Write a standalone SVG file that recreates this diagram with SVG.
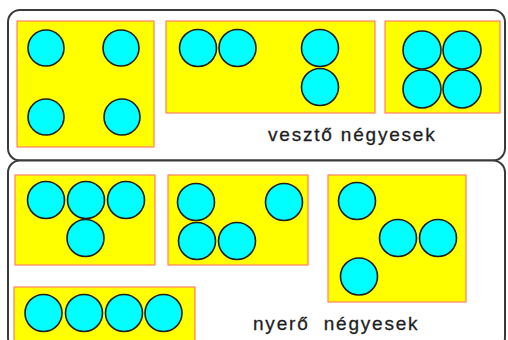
<svg xmlns="http://www.w3.org/2000/svg" width="508" height="340" viewBox="0 0 508 340">
  <style>
    .frame { fill: #ffffff; stroke: #3a3a3a; stroke-width: 2; }
    .card { fill: #ffff00; stroke: #ff8060; stroke-width: 1.2; }
    .dot { fill: #00ffff; stroke: #1e1e1e; stroke-width: 1.6; }
    .label { font-family: "Liberation Sans", Arial, sans-serif; font-size: 19px; fill: #1e1e1e; letter-spacing: 1.8px; stroke: #1e1e1e; stroke-width: 0.3; }
  </style>
  <rect width="508" height="340" fill="#ffffff"/>

  <!-- group frames -->
  <g id="losing-frame">
    <rect class="frame" x="8" y="10" width="497" height="150.5" rx="12" ry="12"/>
  </g>
  <g id="winning-frame">
    <rect class="frame" x="8" y="160.5" width="497" height="189" rx="12" ry="12"/>
  </g>

  <!-- losing fours -->
  <g id="lose-square">
    <rect class="card" x="17" y="21" width="137" height="126"/>
    <circle class="dot" cx="46" cy="48" r="18"/>
    <circle class="dot" cx="121" cy="48" r="18"/>
    <circle class="dot" cx="46" cy="117" r="18"/>
    <circle class="dot" cx="122" cy="117" r="18"/>
  </g>
  <g id="lose-pair-column">
    <rect class="card" x="166" y="21" width="209" height="92"/>
    <circle class="dot" cx="198" cy="48" r="18.5"/>
    <circle class="dot" cx="237.5" cy="48" r="18.5"/>
    <circle class="dot" cx="320" cy="48" r="18.5"/>
    <circle class="dot" cx="320" cy="87" r="18.5"/>
  </g>
  <g id="lose-block">
    <rect class="card" x="385" y="21" width="115" height="92"/>
    <circle class="dot" cx="422" cy="50" r="19"/>
    <circle class="dot" cx="462" cy="50" r="19"/>
    <circle class="dot" cx="422" cy="89" r="19"/>
    <circle class="dot" cx="462" cy="89" r="19"/>
  </g>
  <text class="label" x="268" y="141">vesztő négyesek</text>

  <!-- winning fours -->
  <g id="win-tee">
    <rect class="card" x="15" y="175" width="140" height="90"/>
    <circle class="dot" cx="46" cy="200" r="18.5"/>
    <circle class="dot" cx="86" cy="200" r="18.5"/>
    <circle class="dot" cx="126" cy="200" r="18.5"/>
    <circle class="dot" cx="85.5" cy="238" r="18.5"/>
  </g>
  <g id="win-ell">
    <rect class="card" x="168" y="175" width="140" height="90"/>
    <circle class="dot" cx="196" cy="202" r="18.5"/>
    <circle class="dot" cx="197" cy="241" r="18.5"/>
    <circle class="dot" cx="237" cy="241" r="18.5"/>
    <circle class="dot" cx="284" cy="202" r="18.5"/>
  </g>
  <g id="win-zigzag">
    <rect class="card" x="328" y="175" width="138" height="127"/>
    <circle class="dot" cx="357" cy="201" r="18.5"/>
    <circle class="dot" cx="398" cy="238" r="18.5"/>
    <circle class="dot" cx="438" cy="238" r="18.5"/>
    <circle class="dot" cx="359" cy="276.5" r="18.5"/>
  </g>
  <g id="win-row">
    <rect class="card" x="14" y="287" width="181" height="60"/>
    <circle class="dot" cx="43.5" cy="313" r="18.5"/>
    <circle class="dot" cx="84" cy="313" r="18.5"/>
    <circle class="dot" cx="124" cy="313" r="18.5"/>
    <circle class="dot" cx="163.5" cy="313" r="18.5"/>
  </g>
  <text class="label" x="253" y="330" xml:space="preserve">nyerő  négyesek</text>

  <g id="connectors"></g>
</svg>
